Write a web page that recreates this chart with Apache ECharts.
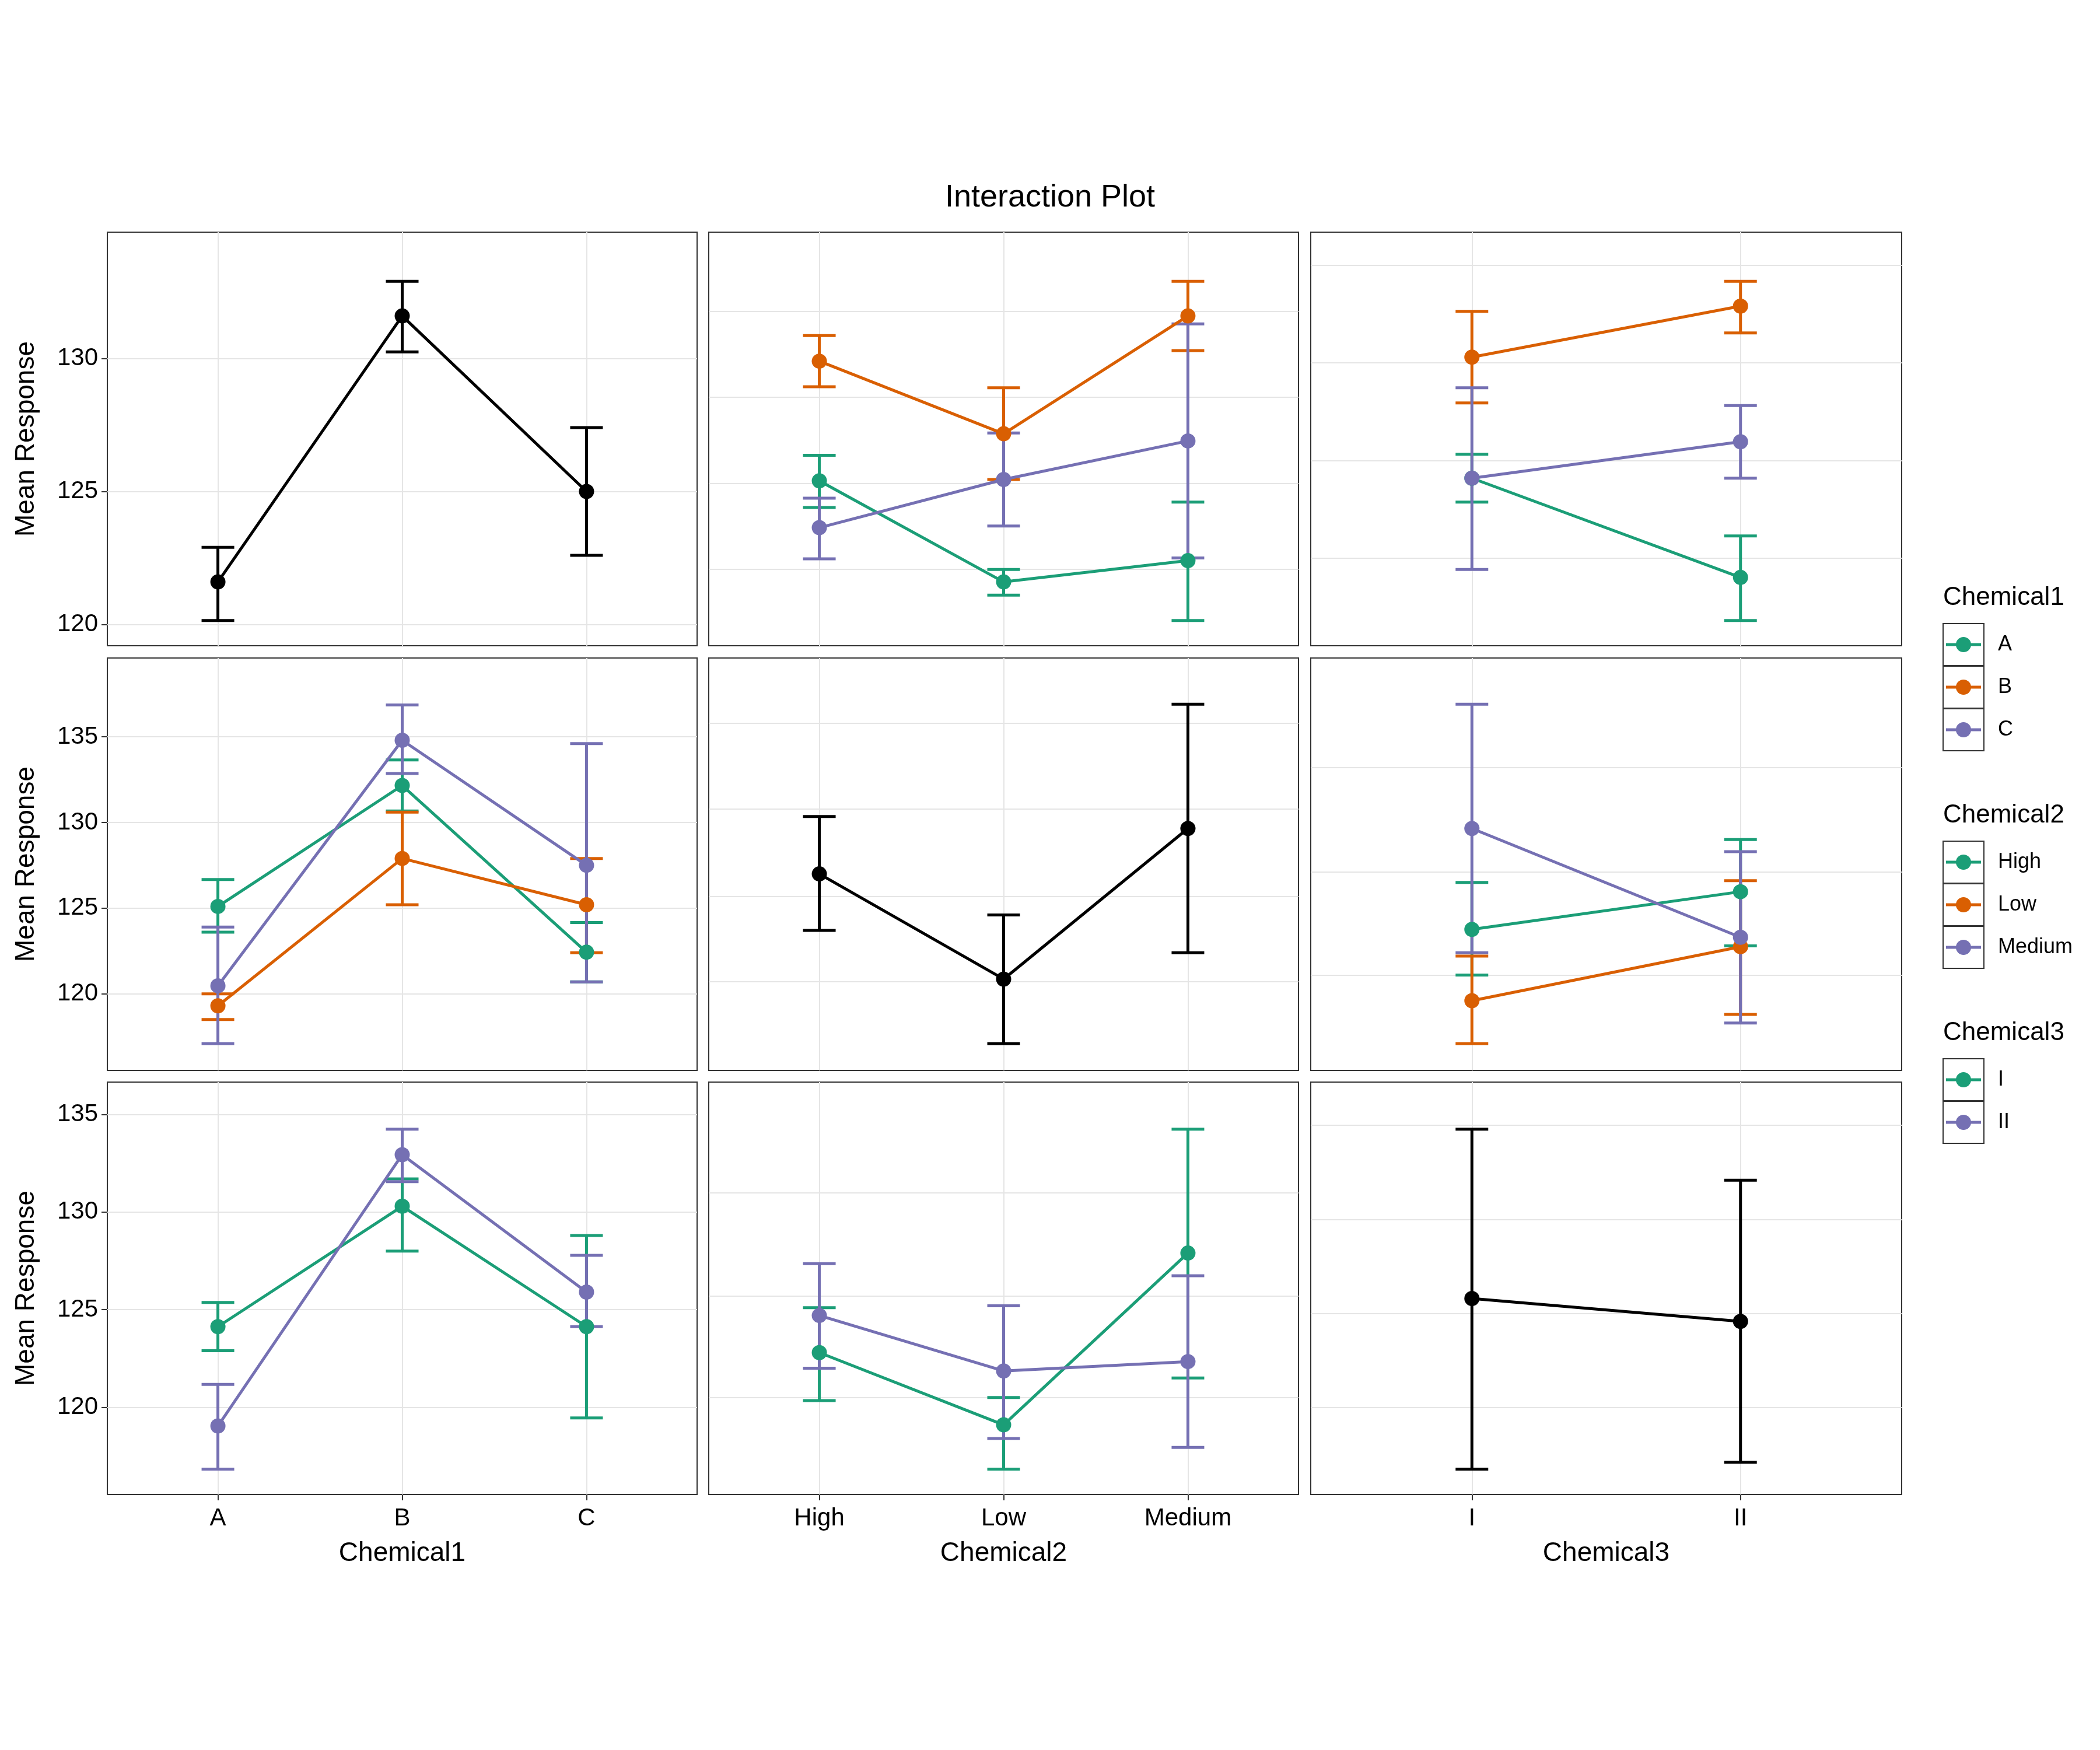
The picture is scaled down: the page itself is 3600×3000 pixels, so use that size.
<!DOCTYPE html>
<html>
<head>
<meta charset="utf-8">
<script src="https://cdn.jsdelivr.net/npm/echarts@6/dist/echarts.min.js"></script>
</head>
<body style="margin:0;background:#fff">
<div id="chart" style="width:3600px;height:3000px;"></div>
<script>
// categories
var chem1 = ['A', 'B', 'C'];
var chem2 = ['High', 'Low', 'Medium'];
var chem3 = ['I', 'II'];
var GREEN = '#1B9E77', ORANGE = '#D95F02', PURPLE = '#7570B3', BLACK = '#000000';

// row 1 : grouped by Chemical1
var r1c1_all = [121.6, 131.6, 125.0];    var r1c1_lo = [120.15, 130.25, 122.6]; var r1c1_hi = [122.9, 132.9, 127.4];
var r1c2_A = [125.4, 121.6, 122.4];      var r1c2_A_lo = [124.4, 121.1, 120.15]; var r1c2_A_hi = [126.36, 122.07, 124.6];
var r1c2_B = [129.9, 127.17, 131.6];     var r1c2_B_lo = [128.94, 125.45, 130.3]; var r1c2_B_hi = [130.86, 128.9, 132.9];
var r1c2_C = [123.64, 125.45, 126.9];    var r1c2_C_lo = [122.47, 123.7, 122.5]; var r1c2_C_hi = [124.75, 127.2, 131.3];
var r1c3_A = [125.5, 121.77];            var r1c3_A_lo = [124.6, 120.15]; var r1c3_A_hi = [126.4, 123.33];
var r1c3_B = [130.05, 131.97];           var r1c3_B_lo = [128.33, 130.96]; var r1c3_B_hi = [131.77, 132.9];
var r1c3_C = [125.5, 126.87];            var r1c3_C_lo = [122.07, 125.5]; var r1c3_C_hi = [128.9, 128.23];

// row 2 : grouped by Chemical2
var r2c1_High = [125.1, 132.16, 122.43]; var r2c1_High_lo = [123.6, 130.67, 120.7]; var r2c1_High_hi = [126.67, 133.65, 124.16];
var r2c1_Low = [119.3, 127.9, 125.2];    var r2c1_Low_lo = [118.5, 125.2, 122.4]; var r2c1_Low_hi = [120.0, 130.6, 127.9];
var r2c1_Med = [120.47, 134.8, 127.5];   var r2c1_Med_lo = [117.1, 132.86, 120.7]; var r2c1_Med_hi = [123.9, 136.86, 134.6];
var r2c2_all = [127.0, 120.86, 129.65];  var r2c2_lo = [123.7, 117.1, 122.4]; var r2c2_hi = [130.35, 124.6, 136.9];
var r2c3_High = [123.76, 125.96];        var r2c3_High_lo = [121.1, 122.8]; var r2c3_High_hi = [126.5, 129.0];
var r2c3_Low = [119.6, 122.75];          var r2c3_Low_lo = [117.1, 118.8]; var r2c3_Low_hi = [122.2, 126.6];
var r2c3_Med = [129.65, 123.3];          var r2c3_Med_lo = [122.4, 118.3]; var r2c3_Med_hi = [136.9, 128.3];

// row 3 : grouped by Chemical3
var r3c1_I = [124.13, 130.3, 124.13];    var r3c1_I_lo = [122.9, 128.0, 119.45]; var r3c1_I_hi = [125.37, 131.7, 128.8];
var r3c1_II = [119.04, 132.94, 125.9];   var r3c1_II_lo = [116.83, 131.56, 124.13]; var r3c1_II_hi = [121.17, 134.25, 127.78];
var r3c2_I = [122.8, 119.1, 127.9];      var r3c2_I_lo = [120.34, 116.83, 121.5]; var r3c2_I_hi = [125.1, 120.5, 134.25];
var r3c2_II = [124.7, 121.86, 122.34];   var r3c2_II_lo = [122.0, 118.4, 117.94]; var r3c2_II_hi = [127.36, 125.2, 126.74];
var r3c3_all = [125.57, 124.4];          var r3c3_lo = [116.83, 117.18]; var r3c3_hi = [134.25, 131.63];

// y ranges & gridlines per row/panel
var rowRange = [[119.2, 134.75], [115.53, 139.6], [115.53, 136.66]];
var yTicks = [[120, 125, 130], [120, 125, 130, 135], [120, 125, 130, 135]];
var hiddenGrid = [
  [[122.07, 125.3, 128.54, 131.77], [122.5, 126.16, 129.85, 133.5]],
  [[120.7, 125.7, 130.8, 135.8], [121.1, 127.1, 133.2]],
  [[120.5, 125.7, 131.0], [120, 124.8, 129.6, 134.45]]
];

var panels = [
  [
    {cats: chem1, s: [[BLACK, r1c1_all, r1c1_lo, r1c1_hi]]},
    {cats: chem2, s: [[GREEN, r1c2_A, r1c2_A_lo, r1c2_A_hi], [ORANGE, r1c2_B, r1c2_B_lo, r1c2_B_hi], [PURPLE, r1c2_C, r1c2_C_lo, r1c2_C_hi]]},
    {cats: chem3, s: [[GREEN, r1c3_A, r1c3_A_lo, r1c3_A_hi], [ORANGE, r1c3_B, r1c3_B_lo, r1c3_B_hi], [PURPLE, r1c3_C, r1c3_C_lo, r1c3_C_hi]]}
  ],
  [
    {cats: chem1, s: [[GREEN, r2c1_High, r2c1_High_lo, r2c1_High_hi], [ORANGE, r2c1_Low, r2c1_Low_lo, r2c1_Low_hi], [PURPLE, r2c1_Med, r2c1_Med_lo, r2c1_Med_hi]]},
    {cats: chem2, s: [[BLACK, r2c2_all, r2c2_lo, r2c2_hi]]},
    {cats: chem3, s: [[GREEN, r2c3_High, r2c3_High_lo, r2c3_High_hi], [ORANGE, r2c3_Low, r2c3_Low_lo, r2c3_Low_hi], [PURPLE, r2c3_Med, r2c3_Med_lo, r2c3_Med_hi]]}
  ],
  [
    {cats: chem1, s: [[GREEN, r3c1_I, r3c1_I_lo, r3c1_I_hi], [PURPLE, r3c1_II, r3c1_II_lo, r3c1_II_hi]]},
    {cats: chem2, s: [[GREEN, r3c2_I, r3c2_I_lo, r3c2_I_hi], [PURPLE, r3c2_II, r3c2_II_lo, r3c2_II_hi]]},
    {cats: chem3, s: [[BLACK, r3c3_all, r3c3_lo, r3c3_hi]]}
  ]
];
var xNames = ['Chemical1', 'Chemical2', 'Chemical3'];

var colX = [[184, 1195], [1215, 2226], [2247, 3260]];
var rowY = [[398, 1107], [1128, 1835], [1855, 2562]];
var FONT = 'Liberation Sans, Arial, sans-serif';

var grids = [], xAxes = [], yAxes = [], series = [];
var idx = 0;
for (var r = 0; r < 3; r++) {
  for (var c = 0; c < 3; c++) {
    var p = panels[r][c];
    var n = p.cats.length;
    grids.push({left: colX[c][0], width: colX[c][1] - colX[c][0], top: rowY[r][0], height: rowY[r][1] - rowY[r][0],
      show: true, borderColor: '#333', borderWidth: 2, backgroundColor: '#fff'});
    var pos = p.cats.map(function (d, i) { return i + 1; });
    (function (cats) {
      xAxes.push({type: 'value', gridIndex: idx, min: 0.4, max: n + 0.6,
        axisLine: {show: false}, axisTick: {show: r === 2, customValues: pos, length: 10, lineStyle: {color: '#333', width: 2}},
        axisLabel: {show: r === 2, customValues: pos, margin: 20, fontSize: 42, color: '#000', fontFamily: FONT,
          formatter: function (v) { return cats[Math.round(v) - 1] || ''; }},
        splitLine: {show: true, lineStyle: {color: '#e5e5e5', width: 2}},
        name: r === 2 ? xNames[c] : '', nameLocation: 'middle', nameGap: 78,
        nameTextStyle: {fontSize: 46, color: '#000', fontFamily: FONT}});
    })(p.cats);
    var ticks = c === 0 ? yTicks[r] : hiddenGrid[r][c - 1];
    yAxes.push({type: 'value', gridIndex: idx, min: rowRange[r][0], max: rowRange[r][1],
      axisLine: {show: false},
      axisTick: {show: c === 0, customValues: ticks, length: 10, lineStyle: {color: '#333', width: 2}},
      axisLabel: {show: c === 0, customValues: ticks, fontSize: 42, color: '#000', fontFamily: FONT, margin: 16},
      splitLine: {show: true, lineStyle: {color: '#e5e5e5', width: 2}},
      name: c === 0 ? 'Mean Response' : '', nameLocation: 'middle', nameGap: 116,
      nameTextStyle: {fontSize: 46, color: '#000', fontFamily: FONT}});
    p.s.forEach(function (s) {
      var color = s[0];
      var eb = s[1].map(function (v, i) { return [i + 1, s[2][i], s[3][i]]; });
      series.push({type: 'custom', xAxisIndex: idx, yAxisIndex: idx, data: eb, silent: true, z: 2,
        renderItem: function (params, api) {
          var x = api.value(0);
          var lo = api.coord([x, api.value(1)]);
          var hi = api.coord([x, api.value(2)]);
          var w = 28;
          var st = {stroke: color, lineWidth: 5};
          return {type: 'group', children: [
            {type: 'line', shape: {x1: lo[0], y1: lo[1], x2: hi[0], y2: hi[1]}, style: st},
            {type: 'line', shape: {x1: lo[0] - w, y1: lo[1], x2: lo[0] + w, y2: lo[1]}, style: st},
            {type: 'line', shape: {x1: hi[0] - w, y1: hi[1], x2: hi[0] + w, y2: hi[1]}, style: st}
          ]};
        }});
      series.push({type: 'line', xAxisIndex: idx, yAxisIndex: idx, z: 3, silent: true,
        data: s[1].map(function (v, i) { return [i + 1, v]; }),
        symbol: 'circle', symbolSize: 26, itemStyle: {color: color},
        lineStyle: {color: color, width: 5}, animation: false});
    });
    idx++;
  }
}

// legends
var legends = [
  {title: 'Chemical1', y: 1027, keys: [['A', GREEN], ['B', ORANGE], ['C', PURPLE]]},
  {title: 'Chemical2', y: 1400, keys: [['High', GREEN], ['Low', ORANGE], ['Medium', PURPLE]]},
  {title: 'Chemical3', y: 1773, keys: [['I', GREEN], ['II', PURPLE]]}
];
var graphics = [{type: 'text', left: 'center', top: 312, style: {text: 'Interaction Plot', fontSize: 54, fill: '#000', font: '54px ' + FONT}}];
legends.forEach(function (lg) {
  graphics.push({type: 'text', x: 3331, y: lg.y - 24, style: {text: lg.title, fill: '#000', font: '44px ' + FONT}});
  lg.keys.forEach(function (k, i) {
    var cy = lg.y + 78 + i * 73;
    graphics.push({type: 'rect', shape: {x: 3331, y: cy - 36, width: 70, height: 72}, style: {fill: '#fff', stroke: '#333', lineWidth: 2}});
    graphics.push({type: 'line', shape: {x1: 3336, y1: cy, x2: 3396, y2: cy}, style: {stroke: k[1], lineWidth: 5}});
    graphics.push({type: 'circle', shape: {cx: 3366, cy: cy, r: 13}, style: {fill: k[1]}});
    graphics.push({type: 'text', x: 3425, y: cy - 18, style: {text: k[0], fill: '#000', font: '36px ' + FONT}});
  });
});

var myChart = echarts.init(document.getElementById('chart'));
myChart.setOption({animation: false, backgroundColor: '#fff', grid: grids, xAxis: xAxes, yAxis: yAxes, series: series, graphic: graphics});
</script>
</body>
</html>
